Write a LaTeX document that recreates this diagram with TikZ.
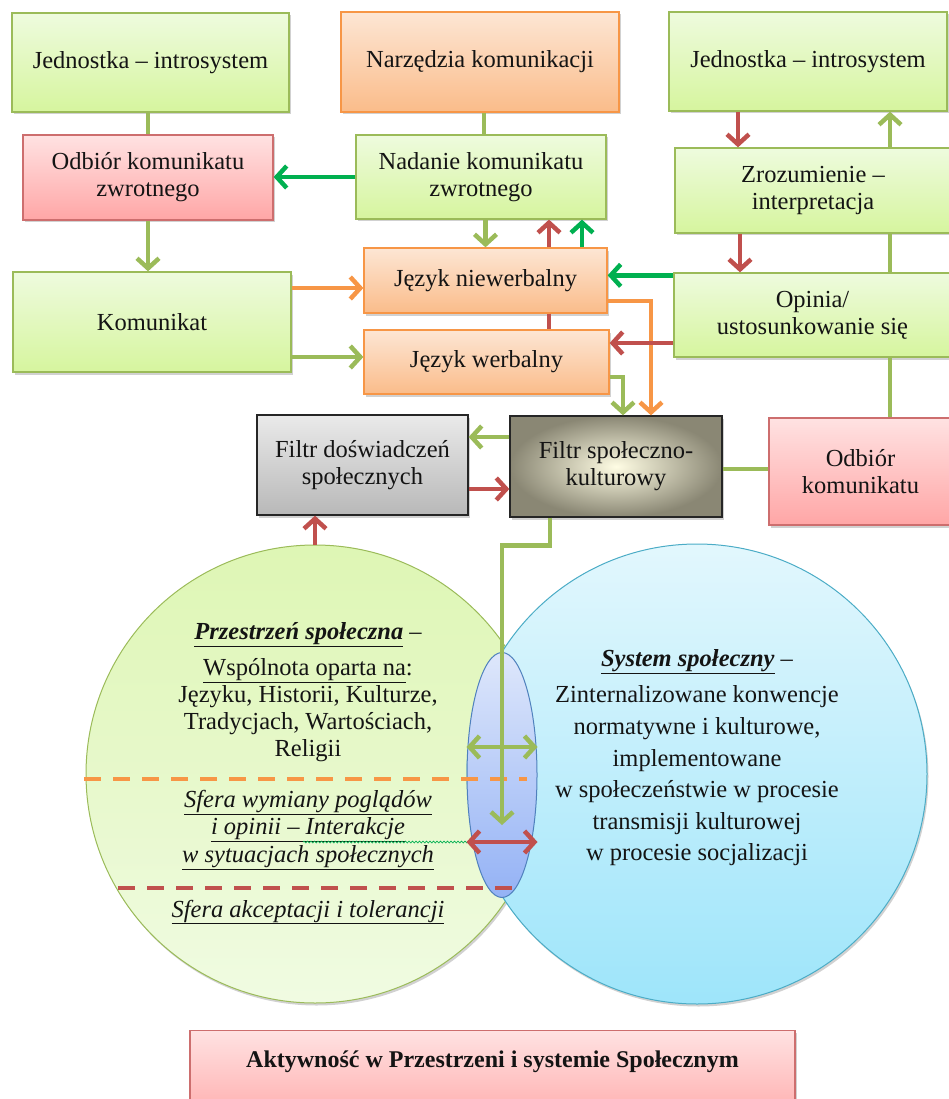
\documentclass[tikz,border=0pt]{standalone}
\usepackage{fontspec}
\setmainfont{Liberation Serif}
\usetikzlibrary{arrows.meta,shapes.geometric,shadows,decorations.pathmorphing,calc}

% palette
\definecolor{cOlive}{RGB}{155,187,89}
\definecolor{cGreen}{RGB}{0,176,80}
\definecolor{cRed}{RGB}{192,80,77}
\definecolor{cOrange}{RGB}{247,150,70}
\definecolor{gTop}{RGB}{238,251,222}
\definecolor{gBot}{RGB}{214,245,158}
\definecolor{oTop}{RGB}{253,230,212}
\definecolor{oBot}{RGB}{250,188,138}
\definecolor{pTop}{RGB}{255,226,226}
\definecolor{pBot}{RGB}{255,166,166}
\definecolor{pLine}{RGB}{205,110,110}
\definecolor{kTop}{RGB}{234,234,234}
\definecolor{kBot}{RGB}{184,184,184}
\definecolor{fIn}{RGB}{255,253,228}
\definecolor{fOut}{RGB}{138,135,116}
\definecolor{gcTop}{RGB}{222,246,180}
\definecolor{gcBot}{RGB}{240,251,226}
\definecolor{bcTop}{RGB}{226,247,253}
\definecolor{bcBot}{RGB}{158,229,250}
\definecolor{bcLine}{RGB}{75,172,198}
\definecolor{lTop}{RGB}{222,231,251}
\definecolor{lBot}{RGB}{148,178,245}
\definecolor{lLine}{RGB}{79,129,189}
\definecolor{txt}{RGB}{20,20,20}

\begin{document}
\begin{tikzpicture}[x=1pt,y=-1pt,
  every node/.style={font=\fontsize{24.5}{27}\selectfont, text=txt, align=center},
  shad/.style={drop shadow={shadow xshift=1.5pt,shadow yshift=-2.5pt,opacity=0.3,fill=black!60}},
  boxbase/.style={rectangle, line width=1.3pt, inner sep=2pt, shad},
  gbox/.style={boxbase, draw=cOlive, top color=gTop, bottom color=gBot},
  obox/.style={boxbase, draw=cOrange, top color=oTop, bottom color=oBot},
  pbox/.style={boxbase, draw=pLine, top color=pTop, bottom color=pBot},
  kbox/.style={boxbase, draw=black!85, top color=kTop, bottom color=kBot},
  fbox/.style={boxbase, draw=black!85, inner color=fIn, outer color=fOut},
  conn/.style={line width=4.5pt, line join=miter},
  tip/.style={-{Straight Barb[length=10pt,width=22pt]}},
  twotip/.style={{Straight Barb[length=10pt,width=22pt]}-{Straight Barb[length=10pt,width=22pt]}},
  divider/.style={line width=4.5pt, dash pattern=on 17pt off 12pt}
]
\useasboundingbox (0,0) rectangle (949,1099);

% ---- boxes, top row
\node[gbox, minimum width=277, minimum height=99] (j1) at (150.5,62.5) {Jednostka -- introsystem};
\node[obox, minimum width=278, minimum height=100] (narz) at (480,62) {Narzędzia komunikacji};
\node[gbox, minimum width=278, minimum height=99] (j2) at (808,61.5) {Jednostka -- introsystem};

% ---- second row
\node[pbox, minimum width=250, minimum height=85] (odbz) at (148,177.5) {Odbiór komunikatu\\zwrotnego};
\node[gbox, minimum width=250, minimum height=84] (nad) at (481,177) {Nadanie komunikatu\\zwrotnego};
\node[gbox, minimum width=276, minimum height=85] (zroz) at (813,190.5) {Zrozumienie --\\interpretacja};

% ---- middle
\node[gbox, minimum width=278, minimum height=100] (kom) at (152,322) {Komunikat};
\node[obox, minimum width=243, minimum height=65] (niew) at (485.5,280.5) {Język niewerbalny};
\node[obox, minimum width=245, minimum height=64] (werb) at (486.5,362) {Język werbalny};
\node[gbox, minimum width=277, minimum height=84] (opin) at (812.5,315) {Opinia/\\ustosunkowanie się};

% ---- filters
\node[kbox, minimum width=211, minimum height=100] (fdos) at (362.5,465) {Filtr doświadczeń\\społecznych};
\node[fbox, minimum width=212, minimum height=101] (fsk) at (616,466.5) {Filtr społeczno-\\kulturowy};
\node[pbox, minimum width=183, minimum height=107] (odbk) at (860.5,471.5) {Odbiór\\komunikatu};

% ---- bottom box
\node[pbox, minimum width=605, minimum height=100, anchor=north] (akt) at (492.5,1030) {};
\node[font=\bfseries\fontsize{24}{27}\selectfont] (aktt) at ([yshift=-32pt]akt.north) {Aktywność w Przestrzeni i systemie Społecznym};

% ---- the two spheres and their overlap
\node[circle, draw=cOlive, line width=1pt, top color=gcTop, bottom color=gcBot, minimum size=458, shad] (gcirc) at (315,774) {};
\node[circle, draw=bcLine, line width=1pt, top color=bcTop, bottom color=bcBot, minimum size=460, shad] (bcirc) at (697,774) {};
\node[ellipse, draw=lLine, line width=1pt, top color=lTop, bottom color=lBot, minimum width=70, minimum height=245, inner sep=0pt] (lens) at (502,775) {};

% ---- texts of the spheres
\node (gt1) at (308,635) {\underline{\textbf{\textit{Przestrzeń społeczna}}} --};
\node (gt2) at (308,710) {\underline{Wspólnota oparta na}:\\Języku, Historii, Kulturze,\\Tradycjach, Wartościach,\\Religii};
\node[font=\itshape\fontsize{24.5}{27.5}\selectfont] (gt3) at (308,830) {\underline{Sfera wymiany poglądów}\\\underline{i opinii -- Interakcje}\\\underline{w sytuacjach społecznych}};
\node[font=\itshape\fontsize{24.5}{27}\selectfont] (gt4) at (308,912) {\underline{Sfera akceptacji i tolerancji}};
\node (bt1) at (697,662) {\underline{\textbf{\textit{System społeczny}}} --};
\node[font=\fontsize{24.5}{31.6}\selectfont] (bt2) at (697,776) {Zinternalizowane konwencje\\normatywne i kulturowe,\\implementowane\\w społeczeństwie w procesie\\transmisji kulturowej\\w procesie socjalizacji};

% ---- dividing lines inside the social space
\draw[divider, cOrange] (84,779) -- (527,779);
\draw[divider, cRed] (118,888) -- (517,888);
\draw[cGreen, line width=0.7pt, decorate, decoration={snake, amplitude=0.9pt, segment length=3.5pt}] (303,842) -- (470,842);

% ---- connectors: left column
\draw[conn, cOlive] (odbz.north |- j1.south) -- (odbz.north);
\draw[conn, cOlive, tip] (odbz.south) -- (odbz.south |- kom.north);
\draw[conn, cGreen, tip] (nad.west) -- (nad.west -| odbz.east);
\draw[conn, cOrange, tip] ([yshift=34pt]kom.east) -- ([yshift=34pt]kom.east -| niew.west);
\draw[conn, cOlive, tip] ([yshift=-35pt]kom.east) -- ([yshift=-35pt]kom.east -| werb.west);

% ---- connectors: centre column
\draw[conn, cOlive] ([xshift=4pt]narz.south) -- ([xshift=4pt]narz.south |- nad.north);
\draw[conn, cOlive, tip] (niew.north |- nad.south) -- (niew.north);
\draw[conn, cRed] ([xshift=63.5pt]niew.south) -- ([xshift=63.5pt]niew.south |- werb.north);
\draw[conn, cRed, tip] ([xshift=63.5pt]niew.north) -- ([xshift=63.5pt]niew.north |- nad.south);
\draw[conn, cGreen, tip] ([xshift=96.5pt]niew.north) -- ([xshift=96.5pt]niew.north |- nad.south);
\draw[conn, cOrange, tip] ([yshift=-20.5pt]niew.east) -| ([xshift=35pt]fsk.north);
\draw[conn, cOlive, tip] ([yshift=-15pt]werb.east) -| ([xshift=7pt]fsk.north);

% ---- connectors: right column
\draw[conn, cRed, tip] ([xshift=-70pt]j2.south) -- ([xshift=-70pt]j2.south |- zroz.north);
\draw[conn, cOlive, tip] ([xshift=82pt]j2.south |- zroz.north) -- ([xshift=82pt]j2.south);
\draw[conn, cRed, tip] ([xshift=-73pt]zroz.south) -- ([xshift=-73pt]zroz.south |- opin.north);
\draw[conn, cOlive] ([xshift=82pt]j2.south |- opin.north) -- ([xshift=82pt]j2.south |- zroz.south);
\draw[conn, cOlive] ([xshift=82pt]j2.south |- odbk.north) -- ([xshift=82pt]j2.south |- opin.south);
\draw[conn, cGreen, tip] ([yshift=-3pt]opin.north west) -- ([yshift=-3pt]opin.north west -| niew.east);
\draw[conn, cRed, tip] ([yshift=-28pt]opin.west) -- ([yshift=-28pt]opin.west -| werb.east);

% ---- connectors: filters
\draw[conn, cOlive] ([yshift=-2.5pt]fsk.east) -- ([yshift=-2.5pt]fsk.east -| odbk.west);
\draw[conn, cOlive, tip] ([yshift=29.5pt]fsk.west) -- ([yshift=29.5pt]fsk.west -| fdos.east);
\draw[conn, cRed, tip] ([yshift=-24pt]fdos.east) -- ([yshift=-24pt]fdos.east -| fsk.west);
\draw[conn, cRed, tip] (gcirc.north) -- (gcirc.north |- fdos.south);
\draw[conn, cOlive, tip] ([xshift=-66pt]fsk.south) -- ++(0,28) -| ([yshift=-50pt]lens.center);

% ---- exchange between space and system
\draw[conn, cOlive, twotip] ([yshift=28pt]lens.west) -- ([yshift=28pt]lens.east);
\draw[conn, cRed, twotip] ([yshift=-67pt]lens.west) -- ([yshift=-67pt]lens.east);
\end{tikzpicture}
\end{document}
